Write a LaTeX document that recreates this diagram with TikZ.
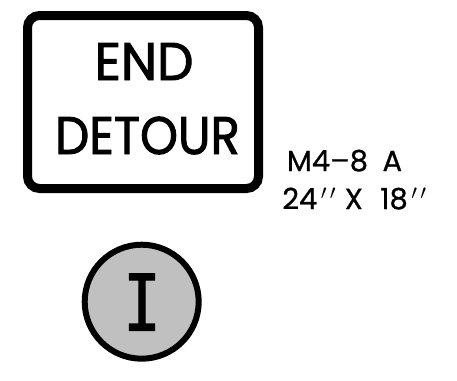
\documentclass[tikz,border=0pt]{standalone}
\usepackage{fontspec}
\setmainfont{Poppins}[FakeBold=1.8]
\newfontfamily\smallfont{Poppins}[FakeBold=0.8]
\newfontfamily\slabfont{DejaVu Sans Mono}[FakeBold=1.4]
\begin{document}
\begin{tikzpicture}[x=1pt,y=-1pt,
  signbox/.style={draw=black,line width=9pt,rounded corners=12pt,fill=white},
  signtext/.style={inner sep=0pt,anchor=base,text=black,font=\fontsize{53}{53}\selectfont},
  codetext/.style={inner sep=0pt,anchor=base,text=black,font=\smallfont\fontsize{29}{29}\selectfont},
  routecircle/.style={circle,draw=black,line width=6pt,fill=routegray,minimum size=114pt,inner sep=0pt}]
\definecolor{routegray}{HTML}{C0C0C0}
\useasboundingbox (0,0) rectangle (457,380);
\fill[white] (0,0) rectangle (457,380);
\draw[signbox] (27.5,15.5) rectangle (258.5,188.5);
\node[signtext] (endword) at (144,80) {\scalebox{0.97}[1]{END}};
\node[signtext] (detourword) at (147.5,154) {\scalebox{0.91}[1]{DETOUR}};
\node[codetext] (code) at (344.5,171) {M4–8\hspace{0.5em}A};
\node[codetext] (dims) at (354.5,209) {24\hspace{0.12em}$^{\prime\,\prime}$\hspace{0.3em}X\hspace{0.6em}18\hspace{0.12em}$^{\prime\,\prime}$};
\node[routecircle] (route) at (141.7,301.7) {};
\node[inner sep=0pt,anchor=base,font=\slabfont\fontsize{78}{78}\selectfont] (routeI) at (142,330.5) {\scalebox{0.8}[1]{I}};
\end{tikzpicture}
\end{document}
